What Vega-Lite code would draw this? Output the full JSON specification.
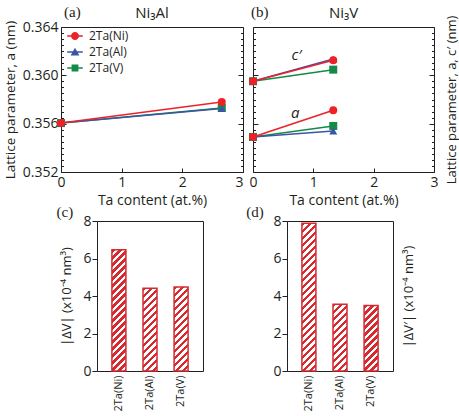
{
  "$schema": "https://vega.github.io/schema/vega-lite/v6.json",
  "padding": {"left": 2, "top": 4, "right": 0, "bottom": 0},
  "background": "white",
  "params": [
    {"name": "hatch", "value": [
      {"offset":0,"color":"#d42a30"},{"offset":0.02,"color":"#d42a30"},{"offset":0.02,"color":"#ffffff"},{"offset":0.04,"color":"#ffffff"},
      {"offset":0.04,"color":"#d42a30"},{"offset":0.06,"color":"#d42a30"},{"offset":0.06,"color":"#ffffff"},{"offset":0.08,"color":"#ffffff"},
      {"offset":0.08,"color":"#d42a30"},{"offset":0.10,"color":"#d42a30"},{"offset":0.10,"color":"#ffffff"},{"offset":0.12,"color":"#ffffff"},
      {"offset":0.12,"color":"#d42a30"},{"offset":0.14,"color":"#d42a30"},{"offset":0.14,"color":"#ffffff"},{"offset":0.16,"color":"#ffffff"},
      {"offset":0.16,"color":"#d42a30"},{"offset":0.18,"color":"#d42a30"},{"offset":0.18,"color":"#ffffff"},{"offset":0.20,"color":"#ffffff"},
      {"offset":0.20,"color":"#d42a30"},{"offset":0.22,"color":"#d42a30"},{"offset":0.22,"color":"#ffffff"},{"offset":0.24,"color":"#ffffff"},
      {"offset":0.24,"color":"#d42a30"},{"offset":0.26,"color":"#d42a30"},{"offset":0.26,"color":"#ffffff"},{"offset":0.28,"color":"#ffffff"},
      {"offset":0.28,"color":"#d42a30"},{"offset":0.30,"color":"#d42a30"},{"offset":0.30,"color":"#ffffff"},{"offset":0.32,"color":"#ffffff"},
      {"offset":0.32,"color":"#d42a30"},{"offset":0.34,"color":"#d42a30"},{"offset":0.34,"color":"#ffffff"},{"offset":0.36,"color":"#ffffff"},
      {"offset":0.36,"color":"#d42a30"},{"offset":0.38,"color":"#d42a30"},{"offset":0.38,"color":"#ffffff"},{"offset":0.40,"color":"#ffffff"},
      {"offset":0.40,"color":"#d42a30"},{"offset":0.42,"color":"#d42a30"},{"offset":0.42,"color":"#ffffff"},{"offset":0.44,"color":"#ffffff"},
      {"offset":0.44,"color":"#d42a30"},{"offset":0.46,"color":"#d42a30"},{"offset":0.46,"color":"#ffffff"},{"offset":0.48,"color":"#ffffff"},
      {"offset":0.48,"color":"#d42a30"},{"offset":0.50,"color":"#d42a30"},{"offset":0.50,"color":"#ffffff"},{"offset":0.52,"color":"#ffffff"},
      {"offset":0.52,"color":"#d42a30"},{"offset":0.54,"color":"#d42a30"},{"offset":0.54,"color":"#ffffff"},{"offset":0.56,"color":"#ffffff"},
      {"offset":0.56,"color":"#d42a30"},{"offset":0.58,"color":"#d42a30"},{"offset":0.58,"color":"#ffffff"},{"offset":0.60,"color":"#ffffff"},
      {"offset":0.60,"color":"#d42a30"},{"offset":0.62,"color":"#d42a30"},{"offset":0.62,"color":"#ffffff"},{"offset":0.64,"color":"#ffffff"},
      {"offset":0.64,"color":"#d42a30"},{"offset":0.66,"color":"#d42a30"},{"offset":0.66,"color":"#ffffff"},{"offset":0.68,"color":"#ffffff"},
      {"offset":0.68,"color":"#d42a30"},{"offset":0.70,"color":"#d42a30"},{"offset":0.70,"color":"#ffffff"},{"offset":0.72,"color":"#ffffff"},
      {"offset":0.72,"color":"#d42a30"},{"offset":0.74,"color":"#d42a30"},{"offset":0.74,"color":"#ffffff"},{"offset":0.76,"color":"#ffffff"},
      {"offset":0.76,"color":"#d42a30"},{"offset":0.78,"color":"#d42a30"},{"offset":0.78,"color":"#ffffff"},{"offset":0.80,"color":"#ffffff"},
      {"offset":0.80,"color":"#d42a30"},{"offset":0.82,"color":"#d42a30"},{"offset":0.82,"color":"#ffffff"},{"offset":0.84,"color":"#ffffff"},
      {"offset":0.84,"color":"#d42a30"},{"offset":0.86,"color":"#d42a30"},{"offset":0.86,"color":"#ffffff"},{"offset":0.88,"color":"#ffffff"},
      {"offset":0.88,"color":"#d42a30"},{"offset":0.90,"color":"#d42a30"},{"offset":0.90,"color":"#ffffff"},{"offset":0.92,"color":"#ffffff"},
      {"offset":0.92,"color":"#d42a30"},{"offset":0.94,"color":"#d42a30"},{"offset":0.94,"color":"#ffffff"},{"offset":0.96,"color":"#ffffff"},
      {"offset":0.96,"color":"#d42a30"},{"offset":0.98,"color":"#d42a30"},{"offset":0.98,"color":"#ffffff"},{"offset":1,"color":"#ffffff"}
    ]}
  ],
  "datasets": {
    "ni3al": [
      {"s":"2Ta(V)","ta":0,"lat":0.35605},{"s":"2Ta(V)","ta":2.65,"lat":0.3573},
      {"s":"2Ta(Al)","ta":0,"lat":0.35605},{"s":"2Ta(Al)","ta":2.65,"lat":0.35725},
      {"s":"2Ta(Ni)","ta":0,"lat":0.35605},{"s":"2Ta(Ni)","ta":2.65,"lat":0.35779}
    ],
    "ni3v": [
      {"s":"2Ta(V)","p":"c","ta":0,"lat":0.35951},{"s":"2Ta(V)","p":"c","ta":1.33,"lat":0.36047},
      {"s":"2Ta(V)","p":"a","ta":0,"lat":0.3549},{"s":"2Ta(V)","p":"a","ta":1.33,"lat":0.35581},
      {"s":"2Ta(Al)","p":"c","ta":0,"lat":0.35951},{"s":"2Ta(Al)","p":"c","ta":1.33,"lat":0.36135},
      {"s":"2Ta(Al)","p":"a","ta":0,"lat":0.3549},{"s":"2Ta(Al)","p":"a","ta":1.33,"lat":0.3554},
      {"s":"2Ta(Ni)","p":"c","ta":0,"lat":0.35951},{"s":"2Ta(Ni)","p":"c","ta":1.33,"lat":0.36124},
      {"s":"2Ta(Ni)","p":"a","ta":0,"lat":0.3549},{"s":"2Ta(Ni)","p":"a","ta":1.33,"lat":0.35711}
    ],
    "ni3vlabels": [
      {"lbl":"c′","ta":0.72,"lat":0.36166},
      {"lbl":"a","ta":0.7,"lat":0.3569}
    ],
    "dvc": [{"s":"2Ta(Ni)","dv":6.47},{"s":"2Ta(Al)","dv":4.41},{"s":"2Ta(V)","dv":4.48}],
    "dvd": [{"s":"2Ta(Ni)","dv":7.88},{"s":"2Ta(Al)","dv":3.56},{"s":"2Ta(V)","dv":3.49}]
  },
  "resolve": {"scale": {"color": "independent"}},
  "bounds": "full",
  "spacing": -4,
  "vconcat": [
    {
      "hconcat": [
        {
          "width": 182, "height": 145,
          "data": {"name": "ni3al"},
          "resolve": {"axis": {"x": "independent", "y": "independent"}},
          "layer": [
            {
              "mark": {"type": "line", "strokeWidth": 1.5},
              "encoding": {
                "x": {"field": "ta", "type": "quantitative", "scale": {"domain": [0, 3], "nice": false},
                      "axis": {"values": [0, 1, 2, 3], "format": "d", "tickSize": -4, "labelPadding": 7, "title": "Ta content (at.%)", "titlePadding": 4,
                               "labelAlign": {"condition": {"test": "datum.value == 3", "value": "right"}, "value": "center"}}},
                "y": {"field": "lat", "type": "quantitative", "scale": {"domain": [0.352, 0.364], "nice": false, "zero": false},
                      "axis": {"orient": "left", "values": [0.352, 0.356, 0.36, 0.364], "format": ".3f", "tickSize": -5, "labelPadding": 8, "title": "Lattice parameter, a (nm)", "titleFontSize": 13.5, "titlePadding": 5}},
                "detail": {"field": "s", "type": "nominal"},
                "stroke": {"condition": [{"test": "datum.s == '2Ta(Ni)'", "value": "#ed2228"}, {"test": "datum.s == '2Ta(Al)'", "value": "#3b55a5"}], "value": "#138a47"}
              }
            },
            {
              "mark": {"type": "point", "filled": true, "size": 1},
              "encoding": {
                "x": {"field": "ta", "type": "quantitative", "scale": {"domain": [0, 3], "nice": false}, "axis": null},
                "y": {"field": "lat", "type": "quantitative", "scale": {"domain": [0.352, 0.364], "nice": false, "zero": false},
                      "axis": {"orient": "left", "values": [0.3525,0.353,0.3535,0.354,0.3545,0.355,0.3555,0.3565,0.357,0.3575,0.358,0.3585,0.359,0.3595,0.3605,0.361,0.3615,0.362,0.3625,0.363,0.3635], "tickSize": -2.5, "labels": false, "title": null}},
                "color": {"field": "s", "type": "nominal", "scale": {"domain": ["2Ta(Ni)", "2Ta(Al)", "2Ta(V)"], "range": ["#ed2228", "#3b55a5", "#138a47"]},
                          "legend": {"orient": "none", "legendX": 8, "legendY": 3, "title": null, "symbolSize": 64, "labelFontSize": 12, "labelOffset": 8, "rowPadding": 4, "padding": 0, "symbolStrokeWidth": 0, "symbolOpacity": 1,
                                     "encode": {"symbols": {"update": {
                                       "shape": {"signal": "datum.value == '2Ta(Ni)' ? 'M-1.95,-0.2H1.95V0.2H-1.95ZM1,0A1,1 0 1,1 -1,0A1,1 0 1,1 1,0Z' : datum.value == '2Ta(Al)' ? 'M-1.95,-0.2H1.95V0.2H-1.95ZM0,-1.05L1.1,0.85H-1.1Z' : 'M-1.95,-0.2H1.95V0.2H-1.95ZM-0.85,-0.85H0.85V0.85H-0.85Z'"},
                                       "stroke": {"value": "transparent"},
                                       "opacity": {"value": 1}}}}}}
              }
            },
            {
              "mark": {"type": "point", "filled": true, "opacity": 1, "size": 64},
              "encoding": {
                "x": {"field": "ta", "type": "quantitative", "scale": {"domain": [0, 3], "nice": false}, "axis": null},
                "y": {"field": "lat", "type": "quantitative", "scale": {"domain": [0.352, 0.364], "nice": false, "zero": false}, "axis": null},
                "fill": {"condition": [{"test": "datum.s == '2Ta(Ni)'", "value": "#ed2228"}, {"test": "datum.s == '2Ta(Al)'", "value": "#3b55a5"}], "value": "#138a47"},
                "shape": {"condition": [{"test": "datum.s == '2Ta(Ni)'", "value": "circle"}, {"test": "datum.s == '2Ta(Al)'", "value": "triangle-up"}], "value": "square"}
              }
            },
            {
              "data": {"values": [{}]},
              "mark": {"type": "text", "text": "(a)", "font": "Liberation Serif", "fontSize": 15, "align": "left", "baseline": "alphabetic", "dx": 3, "dy": -10},
              "encoding": {
                "x": {"datum": 0, "type": "quantitative", "scale": {"domain": [0, 3], "nice": false}, "axis": null},
                "y": {"datum": 0.364, "type": "quantitative", "scale": {"domain": [0.352, 0.364], "nice": false, "zero": false},
                      "axis": {"orient": "right", "values": [0.352, 0.356, 0.36, 0.364], "tickSize": -5, "labels": false, "title": null}}
              }
            },
            {
              "data": {"values": [{}]},
              "mark": {"type": "text", "text": "Ni₃Al", "font": "Open Sans", "fontSize": 15, "align": "center", "baseline": "alphabetic", "dy": -9},
              "encoding": {
                "x": {"datum": 1.5, "type": "quantitative", "scale": {"domain": [0, 3], "nice": false}, "axis": null},
                "y": {"datum": 0.364, "type": "quantitative", "scale": {"domain": [0.352, 0.364], "nice": false, "zero": false},
                      "axis": {"orient": "right", "values": [0.3525,0.353,0.3535,0.354,0.3545,0.355,0.3555,0.3565,0.357,0.3575,0.358,0.3585,0.359,0.3595,0.3605,0.361,0.3615,0.362,0.3625,0.363,0.3635], "tickSize": -2.5, "labels": false, "title": null}}
              }
            }
          ]
        },
        {
          "width": 181, "height": 145,
          "data": {"name": "ni3v"},
          "resolve": {"axis": {"x": "independent", "y": "independent"}},
          "layer": [
            {
              "mark": {"type": "line", "strokeWidth": 1.5},
              "encoding": {
                "x": {"field": "ta", "type": "quantitative", "scale": {"domain": [0, 3], "nice": false},
                      "axis": {"values": [0, 1, 2, 3], "format": "d", "tickSize": -4, "labelPadding": 7, "title": "Ta content (at.%)", "titlePadding": 4}},
                "y": {"field": "lat", "type": "quantitative", "scale": {"domain": [0.352, 0.364], "nice": false, "zero": false},
                      "axis": {"orient": "left", "values": [0.352, 0.356, 0.36, 0.364], "tickSize": -5, "labels": false, "title": null}},
                "detail": [{"field": "s", "type": "nominal"}, {"field": "p", "type": "nominal"}],
                "stroke": {"condition": [{"test": "datum.s == '2Ta(Ni)'", "value": "#ed2228"}, {"test": "datum.s == '2Ta(Al)'", "value": "#3b55a5"}], "value": "#138a47"}
              }
            },
            {
              "mark": {"type": "point", "filled": true, "opacity": 1, "size": 64},
              "encoding": {
                "x": {"field": "ta", "type": "quantitative", "scale": {"domain": [0, 3], "nice": false}, "axis": null},
                "y": {"field": "lat", "type": "quantitative", "scale": {"domain": [0.352, 0.364], "nice": false, "zero": false},
                      "axis": {"orient": "left", "values": [0.3525,0.353,0.3535,0.354,0.3545,0.355,0.3555,0.3565,0.357,0.3575,0.358,0.3585,0.359,0.3595,0.3605,0.361,0.3615,0.362,0.3625,0.363,0.3635], "tickSize": -2.5, "labels": false, "title": null}},
                "fill": {"condition": [{"test": "datum.s == '2Ta(Ni)'", "value": "#ed2228"}, {"test": "datum.s == '2Ta(Al)'", "value": "#3b55a5"}], "value": "#138a47"},
                "shape": {"condition": [{"test": "datum.s == '2Ta(Ni)'", "value": "circle"}, {"test": "datum.s == '2Ta(Al)'", "value": "triangle-up"}], "value": "square"}
              }
            },
            {
              "data": {"values": [{}]},
              "mark": {"type": "text", "text": "(b)", "font": "Liberation Serif", "fontSize": 15, "align": "left", "baseline": "alphabetic", "dx": -2, "dy": -10},
              "encoding": {
                "x": {"datum": 0, "type": "quantitative", "scale": {"domain": [0, 3], "nice": false}, "axis": null},
                "y": {"datum": 0.364, "type": "quantitative", "scale": {"domain": [0.352, 0.364], "nice": false, "zero": false},
                      "axis": {"orient": "right", "values": [0.352, 0.356, 0.36, 0.364], "tickSize": -5, "labels": false, "title": "Lattice parameter, a, c′ (nm)", "titleFontSize": 13, "titleAngle": 270, "titleBaseline": "top", "titlePadding": 11}}
              }
            },
            {
              "data": {"values": [{}]},
              "mark": {"type": "text", "text": "Ni₃V", "font": "Open Sans", "fontSize": 15, "align": "center", "baseline": "alphabetic", "dy": -9},
              "encoding": {
                "x": {"datum": 1.5, "type": "quantitative", "scale": {"domain": [0, 3], "nice": false}, "axis": null},
                "y": {"datum": 0.364, "type": "quantitative", "scale": {"domain": [0.352, 0.364], "nice": false, "zero": false},
                      "axis": {"orient": "right", "values": [0.3525,0.353,0.3535,0.354,0.3545,0.355,0.3555,0.3565,0.357,0.3575,0.358,0.3585,0.359,0.3595,0.3605,0.361,0.3615,0.362,0.3625,0.363,0.3635], "tickSize": -2.5, "labels": false, "title": null}}
              }
            },
            {
              "data": {"name": "ni3vlabels"},
              "mark": {"type": "text", "font": "Open Sans", "fontSize": 15, "fontStyle": "italic", "align": "center", "baseline": "middle"},
              "encoding": {
                "x": {"field": "ta", "type": "quantitative", "scale": {"domain": [0, 3], "nice": false}, "axis": null},
                "y": {"field": "lat", "type": "quantitative", "scale": {"domain": [0.352, 0.364], "nice": false, "zero": false}, "axis": null},
                "text": {"field": "lbl"}
              }
            }
          ]
        }
      ],
      "spacing": 10,
      "bounds": "flush",
      "resolve": {"scale": {"color": "independent"}}
    },
    {
      "hconcat": [
        {
          "width": 1, "height": 150,
          "data": {"values": [{}]},
          "mark": {"type": "point", "opacity": 0},
          "encoding": {},
          "view": {"stroke": null}
        },
        {
          "hconcat": [
            {
              "width": 106, "height": 150,
              "data": {"name": "dvc"},
              "resolve": {"axis": {"y": "independent"}},
              "layer": [
                {
                  "mark": {"type": "bar", "stroke": "#d42a30", "strokeWidth": 1.5,
                           "fill": {"expr": "{gradient: 'linear', x1: 0, y1: 0, x2: 2450 / (pow(datum.dv * 18.75, 2) + 196), y2: 175 * datum.dv * 18.75 / (pow(datum.dv * 18.75, 2) + 196), stops: hatch}"}},
                  "encoding": {
                    "x": {"field": "s", "type": "nominal", "scale": {"domain": ["2Ta(Ni)", "2Ta(Al)", "2Ta(V)"], "paddingInner": 0.55, "paddingOuter": 0.48},
                          "axis": {"title": null, "labelAngle": -90, "ticks": false, "labelPadding": 4, "labelFontSize": 11}},
                    "y": {"field": "dv", "type": "quantitative", "scale": {"domain": [0, 8], "nice": false},
                          "axis": {"orient": "left", "values": [0, 2, 4, 6, 8], "tickSize": 5, "labelPadding": 1, "title": "|ΔV|  (x10⁻⁴ nm³)", "titleFontSize": 13, "titlePadding": 9}}
                  }
                },
                {
                  "data": {"values": [{}]},
                  "mark": {"type": "text", "text": "(c)", "font": "Liberation Serif", "fontSize": 15, "align": "center", "baseline": "alphabetic", "dx": -54, "dy": -4},
                  "encoding": {
                    "x": {"datum": "2Ta(Ni)", "type": "nominal"},
                    "y": {"datum": 8, "type": "quantitative", "scale": {"domain": [0, 8], "nice": false}, "axis": null}
                  }
                }
              ]
            },
            {
              "width": 106, "height": 150,
              "data": {"name": "dvd"},
              "resolve": {"axis": {"y": "independent"}},
              "layer": [
                {
                  "mark": {"type": "bar", "stroke": "#d42a30", "strokeWidth": 1.5,
                           "fill": {"expr": "{gradient: 'linear', x1: 0, y1: 0, x2: 2450 / (pow(datum.dv * 18.75, 2) + 196), y2: 175 * datum.dv * 18.75 / (pow(datum.dv * 18.75, 2) + 196), stops: hatch}"}},
                  "encoding": {
                    "x": {"field": "s", "type": "nominal", "scale": {"domain": ["2Ta(Ni)", "2Ta(Al)", "2Ta(V)"], "paddingInner": 0.55, "paddingOuter": 0.48},
                          "axis": {"title": null, "labelAngle": -90, "ticks": false, "labelPadding": 4, "labelFontSize": 11}},
                    "y": {"field": "dv", "type": "quantitative", "scale": {"domain": [0, 8], "nice": false},
                          "axis": {"orient": "left", "values": [0, 2, 4, 6, 8], "tickSize": 5, "labelPadding": 1, "title": null}}
                  }
                },
                {
                  "data": {"values": [{}]},
                  "mark": {"type": "text", "text": "(d)", "font": "Liberation Serif", "fontSize": 15, "align": "center", "baseline": "alphabetic", "dx": -54, "dy": -4},
                  "encoding": {
                    "x": {"datum": "2Ta(Ni)", "type": "nominal"},
                    "y": {"datum": 8, "type": "quantitative", "scale": {"domain": [0, 8], "nice": false},
                          "axis": {"orient": "right", "ticks": false, "labels": false, "title": "|ΔV′|  (x10⁻⁴ nm³)", "titleFontSize": 13, "titleAngle": 270, "titleBaseline": "top", "titlePadding": 9}}
                  }
                }
              ]
            }
          ],
          "spacing": 84,
          "bounds": "flush"
        }
      ],
      "spacing": 35,
      "bounds": "flush"
    }
  ],
  "config": {
    "font": "Open Sans",
    "view": {"stroke": "#231f20", "strokeWidth": 1},
    "axis": {"domain": false, "grid": false, "labelFont": "Open Sans", "titleFont": "Open Sans", "labelFontSize": 14, "titleFontSize": 14,
             "titleFontWeight": "normal", "labelColor": "#231f20", "titleColor": "#231f20", "tickColor": "#231f20", "tickWidth": 1,
             "labelFlush": false, "labelOverlap": false},
    "legend": {"labelFont": "Open Sans", "labelColor": "#231f20"},
    "text": {"color": "#231f20"}
  }
}
